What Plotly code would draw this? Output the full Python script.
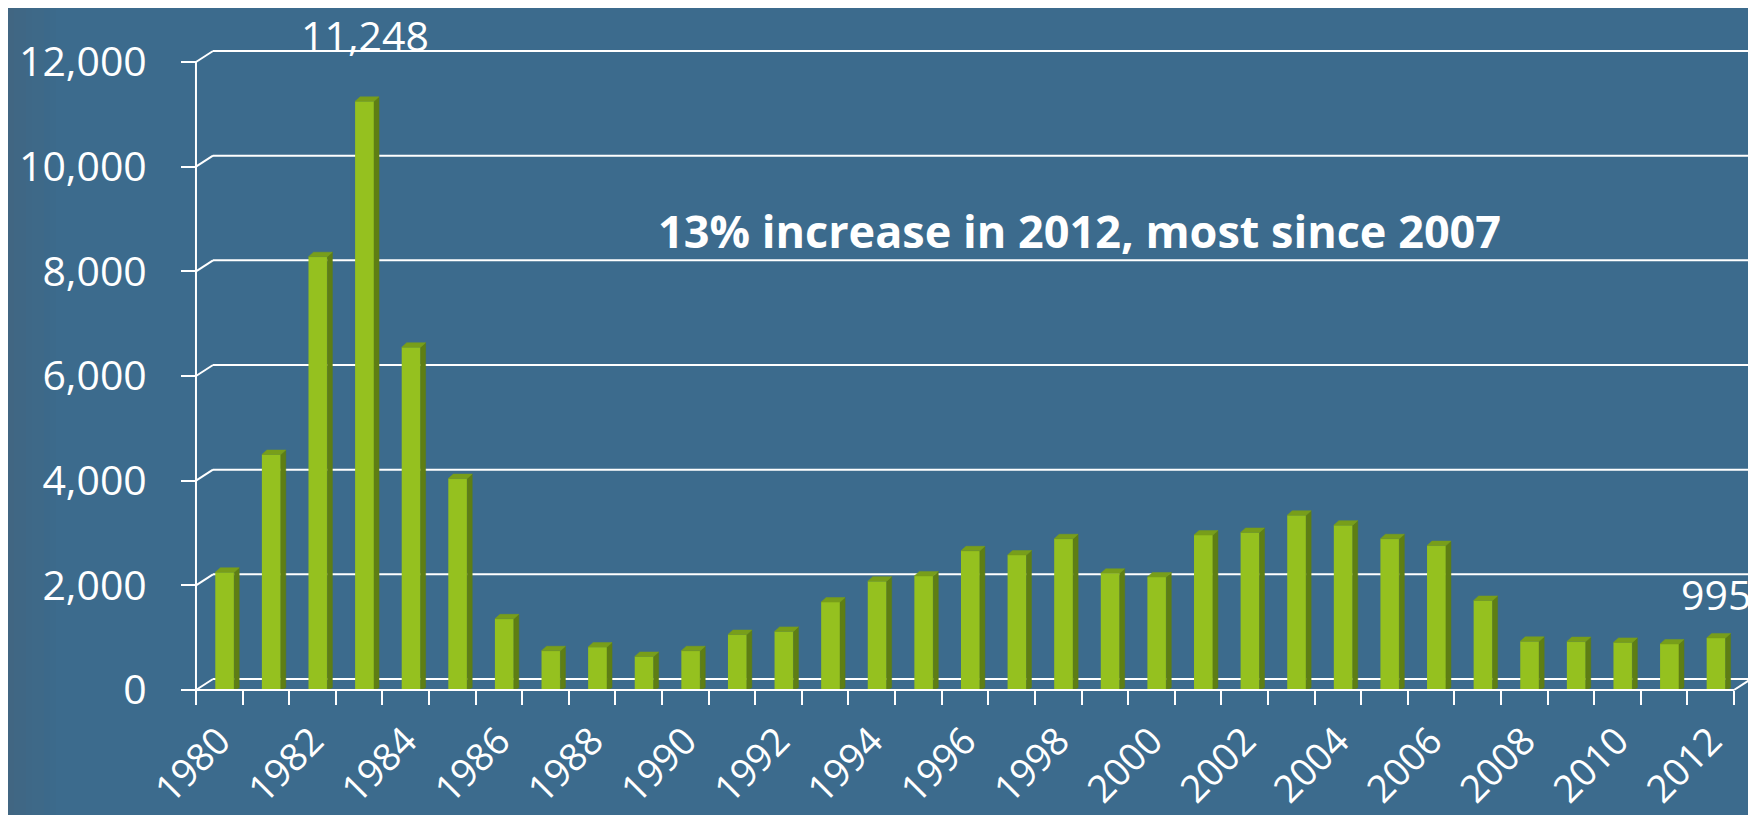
import plotly.graph_objects as go

# ---------------- data ----------------
years = list(range(1980, 2013))
values = [2250, 4500, 8280, 11248, 6550, 4040, 1360, 750, 820, 640, 750,
          1060, 1120, 1680, 2080, 2180, 2660, 2580, 2890, 2230, 2160,
          2960, 3010, 3340, 3150, 2890, 2760, 1710, 930, 925, 910, 880, 995]
label_years = list(range(1980, 2013, 2))
y_ticks = [0, 2000, 4000, 6000, 8000, 10000, 12000]
y_ticktext = ["0", "2,000", "4,000", "6,000", "8,000", "10,000", "12,000"]
headline = "13% increase in 2012, most since 2007"
peak_label = "11,248"
last_label = "995"

# ---------------- style ----------------
W, H = 1756, 815
BG = "#3C6B8D"
GREEN = "#95C11F"
GREEN_SIDE = "#5E7E14"
GREEN_TOP = "#789E1A"
WHITE = "#FFFFFF"
FONT = "Open Sans"

# pixel geometry -> axis ranges
x_lo, x_hi = 1979.436, 2012.908
y_lo, y_hi = -95.5, 12306
x_dom = [185 / W, 1745 / W]
y_dom = [(H - 687) / H, (H - 38) / H]

# 3D depth in data units
wall_dx, wall_dy = 0.365, 210      # back wall offset
bar_off, bar_w = -0.086, 0.406     # front face
side_dx, side_dy = 0.107, 86       # bar depth

fig = go.Figure()

# front faces
fig.add_trace(go.Bar(x=years, y=values, width=bar_w, offset=bar_off,
                     marker=dict(color=GREEN, line=dict(width=0)),
                     hoverinfo="skip", showlegend=False))

# side and top faces
sx, sy, tx, ty = [], [], [], []
for yr, v in zip(years, values):
    x0 = yr + bar_off
    x1 = x0 + bar_w
    sx += [x1, x1, x1 + side_dx, x1 + side_dx, x1, None]
    sy += [0, v, v + side_dy, side_dy * 0.5, 0, None]
    tx += [x0, x1, x1 + side_dx, x0 + side_dx, x0, None]
    ty += [v, v, v + side_dy, v + side_dy, v, None]
fig.add_trace(go.Scatter(x=sx, y=sy, mode="lines", fill="toself",
                         fillcolor=GREEN_SIDE, line=dict(width=0.5, color=GREEN_SIDE),
                         hoverinfo="skip", showlegend=False))
fig.add_trace(go.Scatter(x=tx, y=ty, mode="lines", fill="toself",
                         fillcolor=GREEN_TOP, line=dict(width=0.5, color=GREEN_TOP),
                         hoverinfo="skip", showlegend=False))

shapes = []
# left-edge background shading
for i in range(8):
    shapes.append(dict(type="rect", xref="paper", yref="paper",
                       x0=i * 6 / W, x1=(i + 1) * 6 / W, y0=0, y1=1,
                       fillcolor="#4A5F70", opacity=0.35 * (1 - i / 8),
                       line=dict(width=0), layer="below"))

left = years[0] - 0.5
right = years[-1] + 0.5
# back wall gridlines + connectors
for t in y_ticks:
    shapes.append(dict(type="line", xref="x", yref="y",
                       x0=left + wall_dx, y0=t + wall_dy,
                       x1=right + wall_dx, y1=t + wall_dy,
                       line=dict(color=WHITE, width=2), layer="below"))
    shapes.append(dict(type="line", xref="x", yref="y",
                       x0=left, y0=t, x1=left + wall_dx, y1=t + wall_dy,
                       line=dict(color=WHITE, width=2), layer="below"))
# front axes
shapes.append(dict(type="line", xref="x", yref="y", x0=left, y0=0,
                   x1=left, y1=y_ticks[-1], line=dict(color=WHITE, width=2), layer="above"))
shapes.append(dict(type="line", xref="x", yref="y", x0=left, y0=0,
                   x1=right, y1=0, line=dict(color=WHITE, width=2), layer="above"))
shapes.append(dict(type="line", xref="x", yref="y", x0=right, y0=0,
                   x1=right + wall_dx, y1=wall_dy, line=dict(color=WHITE, width=2), layer="above"))

annotations = [
    dict(text=peak_label, x=years[values.index(11248)] + bar_off + bar_w / 2, y=11248,
         xref="x", yref="y", yanchor="bottom", yshift=36, showarrow=False,
         font=dict(family=FONT, size=41, color=WHITE)),
    dict(text=last_label, x=years[-1] + bar_off + bar_w / 2, y=values[-1],
         xref="x", yref="y", xanchor="center", yanchor="bottom", yshift=14,
         showarrow=False, font=dict(family=FONT, size=41, color=WHITE)),
    dict(text="<b>" + headline + "</b>", x=1071 / W, y=(H - 223) / H,
         xref="paper", yref="paper", xanchor="center", yanchor="middle",
         showarrow=False, font=dict(family=FONT, size=45, color=WHITE)),
]

fig.update_layout(
    width=W, height=H,
    margin=dict(l=0, r=0, t=0, b=0),
    paper_bgcolor=BG, plot_bgcolor="rgba(0,0,0,0)",
    barmode="overlay", showlegend=False,
    shapes=shapes, annotations=annotations,
    xaxis=dict(domain=x_dom, range=[x_lo, x_hi], anchor="free",
               position=(H - 682) / H,
               tickmode="array",
               tickvals=label_years,
               ticktext=[str(y) for y in label_years],
               tickangle=-45, ticks="", ticklabelstandoff=20,
               tickfont=dict(family=FONT, size=38, color=WHITE),
               minor=dict(tickmode="array",
                          tickvals=[y - 0.5 for y in years] + [right],
                          ticks="outside", ticklen=14, tickwidth=2, tickcolor=WHITE,
                          showgrid=False),
               showgrid=False, zeroline=False, showline=False, automargin=False,
               fixedrange=True),
    yaxis=dict(domain=y_dom, range=[y_lo, y_hi], anchor="free",
               position=188 / W,
               tickmode="array", tickvals=y_ticks, ticktext=y_ticktext,
               ticks="outside", ticklen=15, tickwidth=2, tickcolor=WHITE,
               ticklabelstandoff=26,
               tickfont=dict(family=FONT, size=41, color=WHITE),
               showgrid=False, zeroline=False, showline=False, automargin=False,
               fixedrange=True),
)

fig.write_html("out.html", config={"displayModeBar": False})
